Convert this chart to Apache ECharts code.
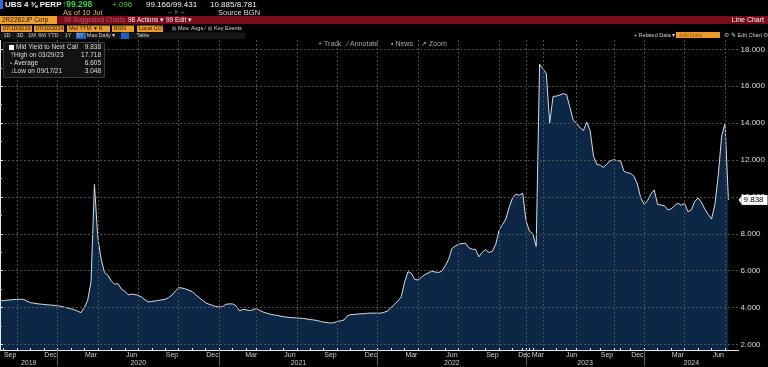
<!DOCTYPE html>
<html><head><meta charset="utf-8">
<script src="https://cdn.jsdelivr.net/npm/echarts@6/dist/echarts.min.js"></script>
<style>html,body{margin:0;padding:0;background:#000;}#c{width:768px;height:367px;}</style>
</head><body><div id="c"></div>
<script>
// ---------- data ----------
const months = [
 '2019-08','2019-09','2019-10','2019-11','2019-12',
 '2020-01','2020-02','2020-03','2020-04','2020-05','2020-06','2020-07','2020-08','2020-09','2020-10','2020-11','2020-12',
 '2021-01','2021-02','2021-03','2021-04','2021-05','2021-06','2021-07','2021-08','2021-09','2021-10','2021-11','2021-12',
 '2022-01','2022-02','2022-03','2022-04','2022-05','2022-06','2022-07','2022-08','2022-09','2022-10','2022-11','2022-12',
 '2023-01','2023-02','2023-03','2023-04','2023-05','2023-06','2023-07','2023-08','2023-09','2023-10','2023-11','2023-12',
 '2024-01','2024-02','2024-03','2024-04','2024-05','2024-06','2024-07'];
// number of observations shown in each month (the chart is plotted by observation, so thin months are narrower)
const monthSamples = [
 1,4,4,4,4,
 4,4,4,4,4,4,4,4,4,4,4,4,
 4,4,3,4,4,4,4,4,4,4,4,4,
 4,4,4,4,4,4,4,4,4,4,3,1,
 1,1,3,4,3,3,4,3,4,2,3,4,
 4,4,4,4,4,4,2];
const yields = [
 4.37,4.38,4.40,4.42,4.43,4.45,4.45,4.44,4.35,4.27,
 4.24,4.21,4.19,4.17,4.15,4.14,4.12,4.10,4.07,4.03,
 3.98,3.94,3.88,3.81,3.72,4.00,4.40,5.40,10.68,7.80,
 6.62,5.90,5.75,5.45,5.27,5.30,5.00,4.90,4.69,4.73,
 4.71,4.66,4.57,4.42,4.31,4.33,4.36,4.39,4.42,4.45,
 4.54,4.68,4.90,5.08,5.06,5.01,4.94,4.86,4.70,4.55,
 4.40,4.26,4.18,4.12,4.06,4.03,4.05,4.18,4.20,4.20,
 4.10,3.82,3.90,3.88,3.84,3.88,3.95,3.85,3.76,3.70,
 3.65,3.61,3.58,3.54,3.51,3.48,3.46,3.45,3.44,3.42,
 3.41,3.38,3.35,3.33,3.30,3.25,3.21,3.19,3.16,3.18,
 3.24,3.28,3.33,3.55,3.62,3.63,3.65,3.66,3.67,3.69,
 3.70,3.70,3.70,3.70,3.75,3.82,4.01,4.18,4.36,4.60,
 5.40,5.95,5.85,5.52,5.50,5.65,5.79,5.88,5.97,5.93,
 5.90,5.98,6.26,6.60,7.20,7.34,7.43,7.47,7.49,7.25,
 7.16,7.16,6.75,7.00,7.15,6.98,7.06,7.43,8.20,8.50,
 8.80,9.45,9.95,10.15,10.10,10.20,8.70,8.15,8.00,7.32,
 17.20,16.95,16.70,14.00,15.45,15.47,15.53,15.60,15.55,14.85,
 14.15,14.00,13.75,13.60,14.05,13.60,12.20,11.76,11.72,11.60,
 11.80,11.96,12.02,11.97,11.96,11.40,11.31,11.28,11.12,10.70,
 9.95,9.60,9.80,10.15,10.38,9.60,9.56,9.53,9.30,9.35,
 9.52,9.66,9.55,9.65,9.20,9.30,9.75,9.95,9.70,9.35,
 9.05,8.80,9.60,11.20,13.30,14.00,9.838];
const yTicks = [2,4,6,8,10,12,14,16,18];
const yMinorTicks = [3,5,7,9,11,13,15,17];
const monthNames = ['Jan','Feb','Mar','Apr','May','Jun','Jul','Aug','Sep','Oct','Nov','Dec'];
const legendRows = [
 ['Mid Yield to Next Call','9.838'],
 ['High on 03/29/23','17.718'],
 ['Average','6.605'],
 ['Low on 09/17/21','3.048']];

// ---------- derived ----------
const monthStart = []; let acc = 0;
months.forEach((m,k)=>{ monthStart.push(acc); acc += monthSamples[k]; });
const N = acc;
const XMAX = N - 1 + 3;
const quarterStarts = [], monthLabelPos = [], monthLabelText = {}, yearStarts = [];
const yearFirst = {};
months.forEach((m,k)=>{
  const mm = +m.slice(5), yy = m.slice(0,4);
  if ([1,4,7,10].includes(mm) && monthStart[k] > 0) quarterStarts.push(monthStart[k]);
  if ([3,6,9,12].includes(mm)) { const p = monthStart[k] + monthSamples[k]/2; monthLabelPos.push(p); monthLabelText[p] = monthNames[mm-1]; }
  if (mm === 1) yearStarts.push(monthStart[k]);
  if (!(yy in yearFirst)) yearFirst[yy] = monthStart[k];
});
const years = Object.keys(yearFirst);
const yearLabelPos = [], yearLabelText = {};
years.forEach((y,k)=>{
  const a = yearFirst[y], b = k < years.length-1 ? yearFirst[years[k+1]] : XMAX;
  const p = (a+b)/2; yearLabelPos.push(p); yearLabelText[p] = y;
});
const seriesData = yields.map((v,i)=>[i,v]);

const FONT = 'Liberation Sans, Arial, sans-serif';
const chart = echarts.init(document.getElementById('c'), null, {renderer:'canvas'});
const gridLine = {color:'#4f4f4f', width:1, type:[2,2]};
chart.setOption({
  backgroundColor:'#000',
  animation:false,
  grid:{left:0, right:26, top:40, bottom:16, containLabel:false},
  xAxis:[
    {type:'value', min:0, max:XMAX, position:'bottom', z:5,
     axisLine:{show:true, lineStyle:{color:'#e8e8e8', width:1}},
     axisTick:{show:false, customValues:quarterStarts},
     axisLabel:{show:false},
     splitLine:{show:true, lineStyle:gridLine}},
    {type:'value', min:0, max:XMAX, position:'bottom', z:6,
     axisLine:{show:false},
     axisTick:{show:true, inside:true, length:2, customValues:monthStart.slice(1), lineStyle:{color:'#e8e8e8'}},
     axisLabel:{show:true, customValues:monthLabelPos, formatter:v=>monthLabelText[v]||'', color:'#cfcfcf', fontSize:7, fontFamily:FONT, margin:2},
     splitLine:{show:false}},
    {type:'value', min:0, max:XMAX, position:'bottom', z:6,
     axisLine:{show:false},
     axisTick:{show:true, inside:false, length:16, customValues:yearStarts, lineStyle:{color:'#5a5a5a'}},
     axisLabel:{show:true, customValues:yearLabelPos, formatter:v=>yearLabelText[v]||'', color:'#cfcfcf', fontSize:7, fontFamily:FONT, margin:10},
     splitLine:{show:false}}
  ],
  yAxis:[
    {type:'value', position:'right', min:1.70, max:18.51, z:5,
     axisLine:{show:true, lineStyle:{color:'#e8e8e8', width:1}},
     axisTick:{show:true, length:3, customValues:yTicks, lineStyle:{color:'#e8e8e8'}},
     axisLabel:{show:true, customValues:yTicks, formatter:v=>v.toFixed(3), color:'#dcdcdc', fontSize:8, fontFamily:FONT, margin:2},
     splitLine:{show:true, lineStyle:gridLine}},
    {type:'value', position:'right', min:1.70, max:18.51, z:5,
     axisLine:{show:false},
     axisTick:{show:true, length:2, customValues:yMinorTicks, lineStyle:{color:'#bbbbbb'}},
     axisLabel:{show:false}, splitLine:{show:false}}
  ],
  series:[{
    type:'line', data:seriesData, xAxisIndex:0, yAxisIndex:0, z:1,
    showSymbol:false, symbol:'none', silent:true,
    lineStyle:{color:'#d6dce4', width:1},
    areaStyle:{color:'#0c2746', opacity:1, origin:'start'}
  }]
});

// ---------- overlay texts (header, legend, last value) ----------
function T(text, x, y, fill, size, align, weight){
  return {type:'text', x:x, y:y, z:100, silent:true,
    style:{text:text, fill:fill, font:(weight||'normal')+' '+size+'px '+FONT,
      align:align||'left', textAlign:align||'left', verticalAlign:'middle', textVerticalAlign:'middle'}};
}
function R(x,y,w,h,fill,stroke){
  return {type:'rect', z:99, silent:true, shape:{x:x,y:y,width:w,height:h},
    style:{fill:fill, stroke:stroke||null, lineWidth:stroke?1:0}};
}
const G = [];
// row 1
G.push(R(0,0,768,16,'#000'));
G.push(R(0,0,3,9,'#2a6fd8'));
G.push(T('UBS 4 \u215C PERP',5,5,'#f2f2f2',8,'left','bold'));
G.push(T('\u219199.298',62,5,'#35d435',8.5,'left','bold'));
G.push(T('+.096',112,5,'#35d435',8,'left'));
G.push(T('99.166/99.431',146,5,'#f2f2f2',8,'left'));
G.push(T('10.885/8.781',210,5,'#f2f2f2',8,'left'));
// row 2
G.push(T('As of 10 Jul',63,12.5,'#f2b23a',7.5,'left'));
G.push(T('-- x --',168,12.5,'#8c8c8c',7,'left'));
G.push(T('Source BGN',218,12.5,'#dcdcdc',7.5,'left'));
// row 3 red bar
G.push(R(0,16,768,8,'#7a0c1b'));
G.push(R(0,16,57,8,'#f0a030'));
G.push(T('2R2282JP Corp',2,20,'#1a1a1a',6.5,'left'));
G.push(T('96 Suggested Charts',64,20,'#b85a66',6.5,'left'));
G.push(T('98 Actions \u25BE',128,20,'#f2f2f2',6.5,'left'));
G.push(T('99 Edit \u25BE',166,20,'#f2f2f2',6.5,'left'));
G.push(T('Line Chart',764,20,'#f2f2f2',7,'right'));
// row 4
G.push(R(0,24,768,16,'#000'));
const boxes = [[1,31,'07/10/2019'],[34,30,'07/10/2024'],[67,43,'Mid YTM  \u25BE N'],[112,22,'BGN'],[137,26,'Local CCY']];
boxes.forEach(b=>{ G.push(R(b[0],25.5,b[1],6.5,'#e99a28')); G.push(T(b[2],b[0]+2,28.8,'#1a1a1a',5.5,'left')); });
G.push(R(172,26.5,4,4,'#555')); G.push(T('Mov. Avgs \u2215',178,28.8,'#dcdcdc',5.5,'left'));
G.push(R(208,26.5,4,4,'#555')); G.push(T('Key Events',214,28.8,'#dcdcdc',5.5,'left'));
// row 5
G.push(R(0,32.5,245,6.5,'#161616'));
const periods = [['1D',7],['3D',20],['1M',32],['6M',42],['YTD',53],['1Y',68],['5Y',80],['Max',92],['Daily \u25BE',107],['Table',143]];
G.push(R(76,32.5,10,6.5,'#1f5fc0'));
G.push(R(121,32.5,8,6.5,'#1f5fc0'));
periods.forEach(p=>G.push(T(p[0],p[1],35.8,'#cfcfcf',5.5,'center')));
// right controls
G.push(T('+ Related Data \u25BE',634,35,'#cfcfcf',5.5,'left'));
G.push(R(676,32,44,6,'#e99a28'));
G.push(T('Add Data',679,35,'#9a5a10',5.5,'left'));
G.push(T('\u2699',724,35,'#aaa',6,'left'));
G.push(T('\u270E Edit Chart',731,35,'#cfcfcf',5.5,'left'));
G.push(T('\u2699',763,35,'#aaa',6,'left'));
// row 6 tools
G.push(T('+ Track',318,44.5,'#a8a8a8',7,'left'));
G.push(T('\u2215 Annotate',347,44.5,'#a8a8a8',7,'left'));
G.push(T('\u25AA News',391,44.5,'#a8a8a8',7,'left'));
G.push(T('\u2197 Zoom',421,44.5,'#a8a8a8',7,'left'));
// legend box
G.push(R(3.5,42.5,101,35,'#121212','#3a3a3a'));
G.push(R(9,45,5,5,'#ffffff'));
const icons = ['','\u22A4','\u2022','\u22A5'];
legendRows.forEach((r,k)=>{
  const y = 47.5 + k*8;
  if (k>0) G.push(T(icons[k],10,y,'#bbbbbb',6,'left'));
  G.push(T(r[0], k===0?16:14, y, '#dedede', 6.5, 'left'));
  G.push(T(r[1], 101, y, '#dedede', 6.5, 'right'));
});
// last value tag on the price axis
const lastVal = yields[yields.length-1];
const py = chart.convertToPixel({yAxisIndex:0}, lastVal);
const px = chart.convertToPixel({xAxisIndex:0}, XMAX);
G.push({type:'polygon', z:100, silent:true, shape:{points:[[px,py],[px+3,py-4],[px+3,py+4]]}, style:{fill:'#ffffff'}});
G.push(R(px+3,py-5,26,10,'#ffffff'));
G.push(T(lastVal.toFixed(3),px+5,py,'#000000',8,'left'));
chart.setOption({graphic:G});
</script>
</body></html>
